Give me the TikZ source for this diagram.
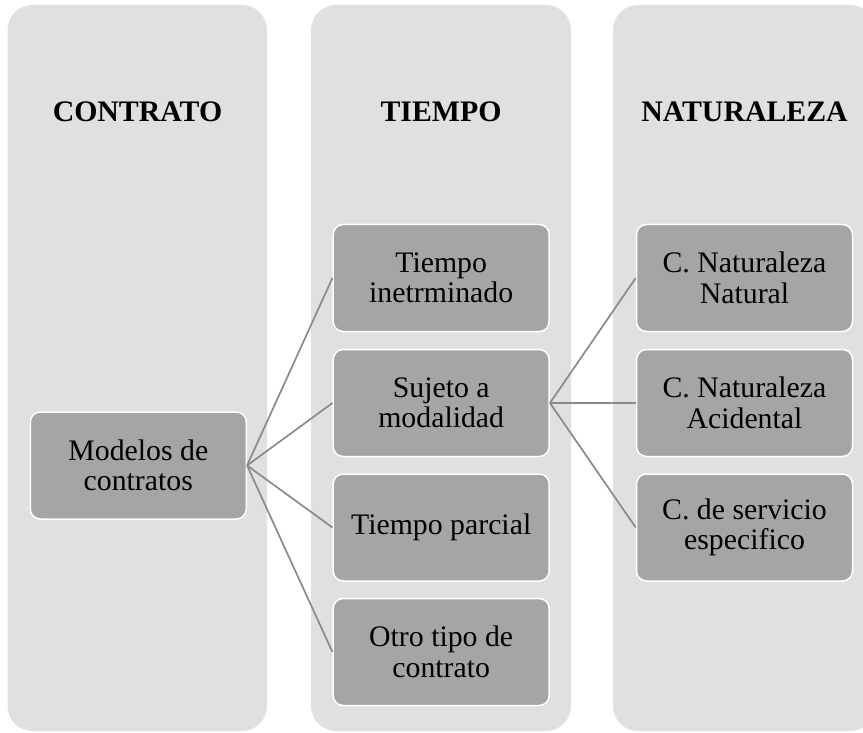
\documentclass[tikz,border=0pt]{standalone}
\usepackage{fontspec}
\setmainfont{Liberation Serif}
\definecolor{colbg}{HTML}{E0E0E0}
\definecolor{boxbg}{HTML}{A5A5A5}
\definecolor{linkc}{HTML}{8A8A8A}
\tikzset{
  column/.style={fill=colbg, draw=none, rounded corners=25pt, minimum width=#1, minimum height=726pt, inner sep=0pt},
  header/.style={font=\fontsize{29.8}{31}\selectfont\bfseries, inner sep=0pt},
  itembox/.style={fill=boxbg, draw=white, line width=1.5pt, rounded corners=10pt,
    minimum width=216pt, minimum height=107pt, inner sep=2pt, align=center,
    font=\fontsize{29.8}{30.5}\selectfont},
  link/.style={draw=linkc, line width=1.7pt}
}
\begin{document}
\begin{tikzpicture}[x=1pt,y=-1pt]
\useasboundingbox (0,0) rectangle (863,733);
\clip (0,0) rectangle (863,733);
% columns
\node[column=259.5pt] (c1) at (137.25,368) {};
\node[column=260pt] (c2) at (441,368) {};
\node[column=262pt] (c3) at (744,368) {};
% headers
\node[header] (h1) at (137.5,112) {CONTRATO};
\node[header] (h2) at (441,112) {TIEMPO};
\node[header] (h3) at (744.5,112) {NATURALEZA};
% boxes
\node[itembox] (m) at (138.3,465.5) {Modelos de\\contratos};
\node[itembox] (t1) at (441.2,278) {Tiempo\\inetrminado};
\node[itembox] (t2) at (441.2,403) {Sujeto a\\modalidad};
\node[itembox] (t3) at (441.2,527.5) {Tiempo parcial};
\node[itembox] (t4) at (441.2,652) {Otro tipo de\\contrato};
\node[itembox] (n1) at (744.5,278) {C. Naturaleza\\Natural};
\node[itembox] (n2) at (744.5,403) {C. Naturaleza\\Acidental};
\node[itembox] (n3) at (744.5,527.5) {C. de servicio\\especifico};
% connectors
\foreach \t in {t1,t2,t3,t4} \draw[link] (m.east) -- (\t.west);
\foreach \n in {n1,n2,n3} \draw[link] (t2.east) -- (\n.west);
\end{tikzpicture}
\end{document}
